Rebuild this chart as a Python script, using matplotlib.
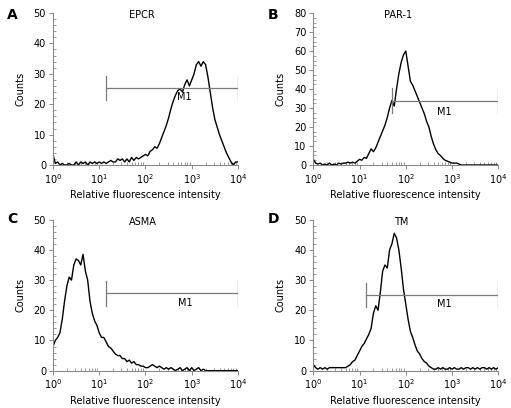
import numpy as np
import matplotlib
matplotlib.use("Agg")
from matplotlib import pyplot as plt
from matplotlib.ticker import AutoMinorLocator, LogLocator, NullFormatter

# channel positions: log10 intensity from 0 to 4 in steps of 0.05
log_step = 0.05

epcr_counts = [
    3.5, 0.5, 1, 0, 0.5, 0, 0, 0.5, 0, 0,
    1, 0, 1, 0.5, 1, 0, 1, 0.5, 1, 0.5,
    1, 0.5, 1, 0.5, 1, 1.5, 1, 1, 2, 1.5,
    2, 1, 2, 1, 2.5, 1.5, 2.5, 2, 2.5, 3,
    3.5, 3, 4.5, 5, 6, 5.5, 7, 9, 11, 13,
    15.5, 18.5, 21, 23, 24.5, 25, 24, 26.5, 28, 26,
    28, 30, 33, 34, 32.5, 34, 33, 29, 24, 19,
    15, 12.5, 10, 8, 6, 4, 2.5, 1, 0, 1, 1,
]
par1_counts = [
    3, 1, 0.5, 1, 0, 0.5, 0, 1, 0, 0.5,
    0, 1, 0.5, 1, 1, 1.5, 1, 1.5, 1, 2,
    3, 2.5, 4, 3.5, 6, 8.5, 7, 9, 12, 15,
    18, 21, 25, 30, 34, 31, 40, 48, 54, 58,
    60, 52, 44, 42, 39, 36, 33, 30, 27, 23,
    20, 15, 11, 8, 6, 5, 3.5, 2.5, 2, 1.5,
    1, 1, 1, 0.5, 0, 0, 0, 0, 0, 0,
    0, 0, 0, 0, 0, 0, 0, 0, 0, 0, 0,
]
asma_counts = [
    8, 10, 11, 12.5, 17, 23, 28, 31, 30, 35,
    37, 36.5, 35, 38.5, 33, 30, 23, 19, 16.5, 15,
    12.5, 11, 11, 9.5, 8, 7.5, 6.5, 5.5, 5, 5,
    4, 4, 3, 3.5, 2.5, 3, 2, 2, 1.5, 1.5,
    1, 1, 1.5, 2, 1.5, 1, 1.5, 1, 0.5, 1,
    0.5, 1, 0.5, 0, 0.5, 1, 0, 0.5, 1, 0,
    1, 0, 0.5, 1, 0, 0.5, 0, 0, 0, 0,
    0, 0, 0, 0, 0, 0, 0, 0, 0, 0, 0,
]
tm_counts = [
    2, 1, 0.5, 1, 0.5, 1, 0.5, 1, 1, 1,
    1, 1, 1, 1, 1, 1.5, 2, 3, 3.5, 5,
    6.5, 8, 9, 10.5, 12, 14, 19, 21.5, 20, 26,
    33, 35, 34, 40, 42, 45.5, 44, 40, 34, 27,
    22, 17, 13, 11, 8.5, 6.5, 5.5, 4, 3, 2.5,
    1.5, 1, 0.5, 0.5, 1, 0.5, 1, 0.5, 0.5, 1,
    0.5, 1, 0.5, 0.5, 1, 0.5, 1, 1, 0.5, 1,
    0.5, 1, 0.5, 1, 1, 0.5, 1, 0.5, 1, 0.5, 1,
]

panel_letters = ["A", "B", "C", "D"]
marker_names = ["EPCR", "PAR-1", "ASMA", "TM"]
y_max = [50, 80, 50, 50]
# M1 gate: start (log10), level, bar bottom, bar top
gate_start = [1.15, 1.71, 1.14, 1.14]
gate_level = [25.3, 33.7, 25.6, 25.2]
gate_low = [21.4, 27.4, 21.5, 21.1]
gate_high = [29.3, 40.5, 29.6, 29.2]
m1_label_pos = [(2.85, 22.4), (2.83, 28.1), (2.86, 22.4), (2.83, 22.2)]
title_x = [0.48, 0.458, 0.486, 0.474]

all_counts = [epcr_counts, par1_counts, asma_counts, tm_counts]

# axes rectangles in figure fraction
rects = [
    (0.1037, 0.5956, 0.362, 0.3725),
    (0.6131, 0.5956, 0.362, 0.3725),
    (0.1037, 0.0915, 0.362, 0.3700),
    (0.6131, 0.0915, 0.362, 0.3700),
]
letter_pos = [(12, 15), (273, 15), (12, 219), (273, 219)]

FS = 7
spine_color = "#8a8a8a"

fig = plt.figure(figsize=(5.11, 4.08), dpi=100)

for i in range(4):
    ax = fig.add_axes(rects[i])
    counts = np.array(all_counts[i], dtype=float)
    x = 10 ** (np.arange(len(counts)) * log_step)
    ax.plot(x, counts, color="black", lw=1.0)

    # M1 gate
    g0 = 10 ** gate_start[i]
    gate_kw = dict(color="#7a7a7a", lw=0.9)
    ax.plot([g0, 1e4], [gate_level[i]] * 2, **gate_kw)
    ax.plot([g0, g0], [gate_low[i], gate_high[i]], **gate_kw)
    ax.plot([1e4, 1e4], [gate_low[i], gate_high[i]], **gate_kw)
    lx, ly = m1_label_pos[i]
    ax.text(10 ** lx, ly, "M1", fontsize=FS, ha="center", va="center")

    ax.set_xscale("log")
    ax.set_xlim(1, 1e4)
    ax.set_ylim(0, y_max[i])
    ax.set_yticks(np.arange(0, y_max[i] + 1, 10))
    ax.yaxis.set_minor_locator(AutoMinorLocator(5 if y_max[i] == 50 else 4))
    ax.xaxis.set_major_locator(LogLocator(base=10, numticks=10))
    ax.xaxis.set_minor_locator(LogLocator(base=10, subs=np.arange(2, 10), numticks=10))
    ax.xaxis.set_minor_formatter(NullFormatter())

    for side in ("top", "right"):
        ax.spines[side].set_visible(False)
    for side in ("left", "bottom"):
        ax.spines[side].set_color(spine_color)
        ax.spines[side].set_linewidth(0.8)
    ax.tick_params(which="major", direction="out", length=3, width=0.7,
                   color=spine_color, labelsize=FS, pad=2)
    ax.tick_params(which="minor", direction="in", length=2, width=0.6,
                   color=spine_color)

    ax.set_xlabel("Relative fluorescence intensity", fontsize=FS, labelpad=3)
    ax.set_ylabel("Counts", fontsize=FS, labelpad=6)
    ax.text(title_x[i], 0.987, marker_names[i], transform=ax.transAxes,
            fontsize=FS, ha="center", va="center")

    px, py = letter_pos[i]
    fig.text(px / 511, 1 - py / 408, panel_letters[i], fontsize=10,
             fontweight="bold", ha="center", va="center")

fig.savefig("out.png", dpi=100)
plt.close(fig)
